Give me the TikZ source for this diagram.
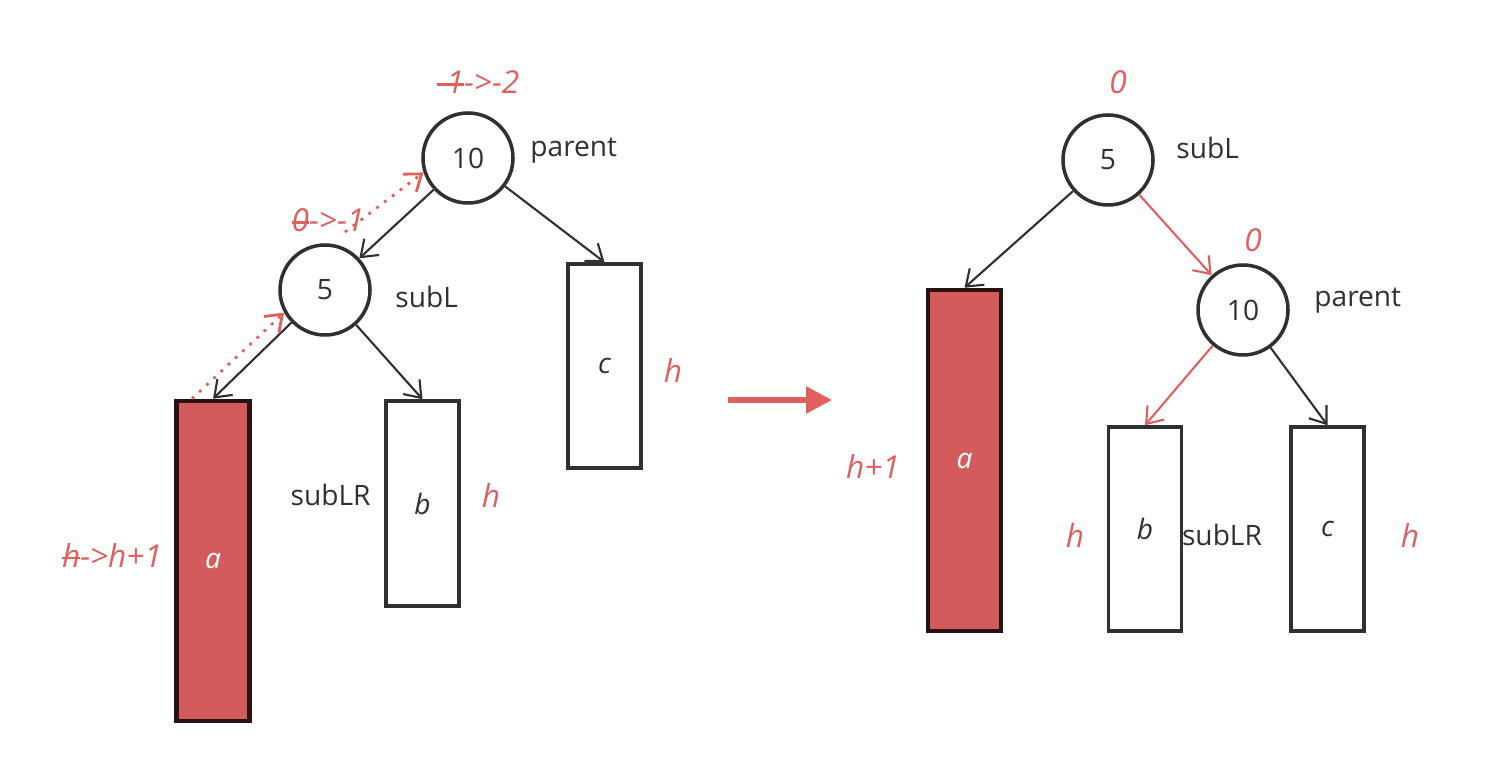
\documentclass[tikz,border=0pt]{standalone}
\usepackage{fontspec}
\setmainfont{Open Sans}
\usepackage{tikz}
\usetikzlibrary{arrows.meta, positioning}
\definecolor{redtxt}{HTML}{E06060}
\definecolor{redfill}{HTML}{D45B5B}
\definecolor{ink}{HTML}{303030}
\newsavebox{\strkbox}
\newcommand{\strk}[1]{\sbox{\strkbox}{#1}\rlap{\raisebox{0.45ex}{\rule{\wd\strkbox}{0.8pt}}}\usebox{\strkbox}}

\begin{document}
\begin{tikzpicture}[
		font=\fontsize{8}{10}\selectfont, text=ink,
		key/.style={draw=ink, circle, line width=1pt, minimum size=0.9cm, inner sep=0pt},
		tree/.style={draw=ink, line width=1pt, minimum width=0.73cm, inner sep=0pt},
		hot/.style={tree, fill=redfill, draw=black!80!redfill, line width=1.3pt, text=white},
		note/.style={text=redtxt, font=\fontsize{9}{11}\selectfont\itshape},
		edge/.style={-{Straight Barb[length=1.5mm, width=2.2mm]}, line width=0.6pt, ink},
		redge/.style={-{Straight Barb[length=1.5mm, width=2.2mm]}, line width=0.6pt, redtxt},
		back/.style={-{Straight Barb[length=1.5mm, width=2.2mm]}, dotted, thick, redtxt}
	]
	\useasboundingbox (0, 0) rectangle (15.04, 7.56);
	% before the rotation
	\node[key] (p1) at (4.68, 5.98) {10};
	\node[key] (s1) at (3.25, 4.66) {5};
	\node[tree, minimum height=2.04cm] (c1) at (6.045, 3.90) {\itshape c};
	\node[tree, minimum height=2.05cm] (b1) at (4.225, 2.525) {\itshape b};
	\node[hot, minimum height=3.20cm] (a1) at (2.13, 1.95) {\itshape a};
	\node[anchor = west] (np1) at (5.18, 6.05) {parent};
	\node[anchor = west] (ns1) at (3.83, 4.59) {subL};
	\node[anchor = east] (nb1) at (3.83, 2.61) {subLR};
	\node[note] (bf1) at (4.78, 6.74) {\strk{-1}->-2};
	\node[note] (bf2) at (3.28, 5.36) {\strk{0}->-1};
	\node[note] (hc1) at (6.73, 3.86) {h};
	\node[note] (hb1) at (4.91, 2.61) {h};
	\node[note] (ha1) at (1.12, 2.01) {\strk{h}->h+1};
	\draw[edge] (p1) -- (s1);
	\draw[edge] (p1) -- (c1.north);
	\draw[edge] (s1) -- (a1.north);
	\draw[edge] (s1) -- (b1.north);
	\coordinate (u1) at ([xshift=-0.21cm]a1.north);
	\coordinate (u2) at (3.45, 5.24);
	\draw[back] (u1) -- (s1.209);
	\draw[back] (u2) -- (p1.198);
	% the step
	\coordinate (m1) at (7.28, 3.56);
	\coordinate (m2) at (8.32, 3.56);
	\draw[-{Triangle[length=0.26cm, width=0.26cm]}, line width=1.6pt, redtxt] (m1) -- (m2);
	% after the rotation
	\node[key] (s2) at (11.08, 5.96) {5};
	\node[key] (p2) at (12.43, 4.46) {10};
	\node[hot, minimum height=3.41cm] (a2) at (9.645, 2.955) {\itshape a};
	\node[tree, minimum height=2.04cm] (b2) at (11.45, 2.27) {\itshape b};
	\node[tree, minimum height=2.04cm] (c2) at (13.275, 2.27) {\itshape c};
	\node[anchor = west] (ns2) at (11.64, 6.08) {subL};
	\node[anchor = west] (np2) at (13.02, 4.55) {parent};
	\node (nb2) at (12.22, 2.21) {subLR};
	\node[note] (bf3) at (11.18, 6.74) {0};
	\node[note] (bf4) at (12.53, 5.16) {0};
	\node[note] (ha2) at (8.73, 2.90) {h+1};
	\node[note] (hb2) at (10.75, 2.21) {h};
	\node[note] (hc2) at (14.10, 2.21) {h};
	\draw[edge] (s2) -- (a2.north);
	\draw[redge] (s2) -- (p2);
	\draw[redge] (p2) -- (b2.north);
	\draw[edge] (p2) -- (c2.north);
\end{tikzpicture}
\end{document}
